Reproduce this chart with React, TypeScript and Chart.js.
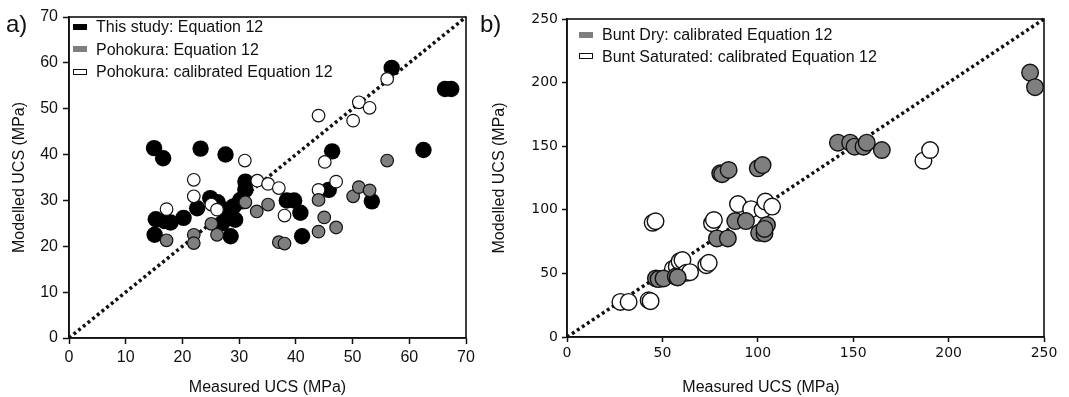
import React, { useEffect, useRef } from 'react';
import { Chart, registerables } from 'chart.js';
Chart.register(...registerables);

// ---------- Panel a) ----------
const thisStudyX = [15.0, 16.6, 23.2, 27.6, 15.1, 15.3, 16.8, 17.9, 20.2, 22.6, 24.9, 26.2, 27.5, 28.5, 29.0, 28.5, 29.3, 27.0, 30.5, 31.1, 31.1, 38.4, 39.7, 40.8, 41.1, 45.8, 46.4, 53.4, 62.5, 56.9, 66.3, 67.4, 30.2];
const thisStudyY = [41.4, 39.2, 41.3, 40.0, 22.5, 25.9, 25.5, 25.2, 26.2, 28.3, 30.5, 29.6, 28.0, 26.5, 28.7, 22.2, 25.8, 25.0, 29.8, 32.3, 34.1, 30.0, 30.0, 27.3, 22.2, 32.3, 40.7, 29.8, 41.0, 58.9, 54.3, 54.3, 30.1];

const pohokuraX = [17.2, 22.0, 22.0, 25.1, 26.1, 31.1, 33.1, 35.1, 37.0, 38.0, 44.0, 44.0, 45.0, 47.1, 50.1, 51.1, 53.0, 56.1];
const pohokuraY = [21.3, 22.5, 20.7, 24.9, 22.5, 29.6, 27.6, 29.1, 20.9, 20.6, 30.1, 23.2, 26.3, 24.1, 30.9, 32.9, 32.2, 38.7];

const pohokuraCalX = [17.2, 22.0, 22.0, 25.1, 26.1, 31.0, 33.2, 35.1, 37.0, 38.0, 44.0, 45.1, 47.1, 44.0, 50.1, 51.1, 53.0, 56.1];
const pohokuraCalY = [28.1, 34.5, 30.9, 29.1, 28.0, 38.7, 34.3, 33.6, 32.7, 26.7, 32.3, 38.4, 34.1, 48.5, 47.4, 51.4, 50.2, 56.5];

const axisA = [0, 70];

// ---------- Panel b) ----------
const buntDryX = [46.6, 48.0, 50.6, 57.0, 58.0, 78.6, 84.3, 80.3, 81.3, 84.7, 88.2, 93.8, 100.0, 102.5, 100.7, 103.5, 104.8, 103.5, 142.0, 148.4, 150.7, 155.4, 157.1, 165.0, 242.7, 245.3];
const buntDryY = [46.0, 45.5, 46.0, 47.5, 46.8, 77.5, 77.5, 128.7, 128.0, 131.3, 91.1, 91.1, 132.6, 135.2, 81.9, 81.4, 88.0, 85.0, 152.8, 152.8, 149.6, 149.6, 152.8, 147.0, 207.9, 196.4];

const buntSatX = [28.0, 32.3, 42.8, 43.8, 44.9, 46.4, 55.5, 57.5, 59.0, 60.5, 62.5, 64.5, 73.0, 74.3, 76.0, 77.0, 89.6, 96.5, 102.5, 104.0, 107.5, 186.8, 190.3];
const buntSatY = [27.6, 27.6, 28.9, 28.2, 89.8, 91.0, 53.5, 55.5, 59.5, 60.5, 50.5, 51.0, 56.5, 58.3, 89.5, 92.0, 104.5, 100.5, 100.0, 106.5, 102.5, 138.6, 147.0];

const axisB = [0, 250];

const labelsA = ['This study: Equation 12', 'Pohokura: Equation 12', 'Pohokura: calibrated Equation 12'];
const labelsB = ['Bunt Dry: calibrated Equation 12', 'Bunt Saturated: calibrated Equation 12'];

const INK = '#111111';
const GRAY = '#7f7f7f';
const ARIAL = "'Liberation Sans', Arial, sans-serif";
const DEJAVU = "'DejaVu Sans', sans-serif";

const zip = (xs: number[], ys: number[]) => xs.map((x, i) => ({ x, y: ys[i] }));

const framePlugin = {
  id: 'frame',
  beforeDatasetsDraw(chart: any) {
    const { ctx, chartArea } = chart;
    const { left, top, right, bottom } = chartArea;
    ctx.save();
    ctx.strokeStyle = INK;
    ctx.lineWidth = 1.6;
    ctx.strokeRect(left, top, right - left, bottom - top);
    ctx.restore();
  },
};

function makeScale(opts: {
  min: number; max: number; step: number; font: any; tickLen: number; tickPad: number;
  title?: string; titlePad?: any; titleFont?: any; size: number; horizontal: boolean;
}) {
  return {
    type: 'linear',
    min: opts.min,
    max: opts.max,
    ticks: { stepSize: opts.step, font: opts.font, color: INK, padding: opts.tickPad },
    grid: { display: true, drawOnChartArea: false, drawTicks: true, tickLength: opts.tickLen, color: INK, tickWidth: 1.5 },
    border: { display: true, color: INK, width: 1.6 },
    title: opts.title
      ? { display: true, text: opts.title, font: opts.titleFont, color: INK, padding: opts.titlePad }
      : { display: false },
    afterFit: (s: any) => {
      if (opts.horizontal) s.height = opts.size;
      else s.width = opts.size;
    },
  };
}

function useChart(ref: React.RefObject<HTMLCanvasElement>, build: () => any) {
  useEffect(() => {
    if (!ref.current) return;
    const chart = new Chart(ref.current, build());
    return () => chart.destroy();
  }, []);
}

function lineDataset(ax: number[]) {
  return {
    type: 'line',
    data: zip(ax, ax),
    borderColor: INK,
    borderWidth: 3.5,
    borderDash: [3, 3],
    pointRadius: 0,
    fill: false,
    order: 10,
    clip: false,
  };
}

function PanelA() {
  const ref = useRef<HTMLCanvasElement>(null);
  useChart(ref, () => {
    const tickFont = { family: ARIAL, size: 16 };
    const titleFont = { family: ARIAL, size: 16 };
    return {
      type: 'scatter',
      data: {
        datasets: [
          lineDataset(axisA),
          { label: labelsA[0], data: zip(thisStudyX, thisStudyY), backgroundColor: '#000', borderColor: '#000', borderWidth: 0, pointRadius: 8.2, order: 3, clip: false },
          { label: labelsA[2], data: zip(pohokuraCalX, pohokuraCalY), backgroundColor: '#fff', borderColor: INK, borderWidth: 1.2, pointRadius: 6.3, order: 2, clip: false },
          { label: labelsA[1], data: zip(pohokuraX, pohokuraY), backgroundColor: GRAY, borderColor: INK, borderWidth: 1.2, pointRadius: 6.3, order: 1, clip: false },
        ],
      },
      options: {
        responsive: false,
        animation: false,
        layout: { padding: { top: 17, right: 69, bottom: 0, left: 0 } },
        plugins: { legend: { display: false }, tooltip: { enabled: false } },
        scales: {
          x: makeScale({ min: 0, max: 70, step: 10, font: tickFont, tickLen: 6, tickPad: 4, title: 'Measured UCS (MPa)', titleFont, titlePad: { top: 0, bottom: 0 }, size: 59, horizontal: true }),
          y: makeScale({ min: 0, max: 70, step: 10, font: tickFont, tickLen: 6, tickPad: 5, title: 'Modelled UCS (MPa)', titleFont, titlePad: { top: 10.4, bottom: 0 }, size: 69, horizontal: false }),
        },
      },
      plugins: [framePlugin],
    };
  });
  return <canvas ref={ref} width={535} height={397} style={{ position: 'absolute', left: 0, top: 0 }} />;
}

function PanelB() {
  const ref = useRef<HTMLCanvasElement>(null);
  useChart(ref, () => {
    const tickFont = { family: DEJAVU, size: 14 };
    const titleFont = { family: ARIAL, size: 16 };
    return {
      type: 'scatter',
      data: {
        datasets: [
          lineDataset(axisB),
          { label: labelsB[1], data: zip(buntSatX, buntSatY), backgroundColor: '#fff', borderColor: INK, borderWidth: 1.4, pointRadius: 8.3, order: 2, clip: false },
          { label: labelsB[0], data: zip(buntDryX, buntDryY), backgroundColor: GRAY, borderColor: INK, borderWidth: 1.4, pointRadius: 8.3, order: 1, clip: false },
        ],
      },
      options: {
        responsive: false,
        animation: false,
        layout: { padding: { top: 19, right: 25, bottom: 0, left: 0 } },
        plugins: { legend: { display: false }, tooltip: { enabled: false } },
        scales: {
          x: makeScale({ min: 0, max: 250, step: 50, font: tickFont, tickLen: 5, tickPad: 3, size: 60, horizontal: true }),
          y: makeScale({ min: 0, max: 250, step: 50, font: tickFont, tickLen: 5, tickPad: 4, title: 'Modelled UCS (MPa)', titleFont, titlePad: { top: 20.4, bottom: 0 }, size: 97, horizontal: false }),
        },
      },
      plugins: [framePlugin],
    };
  });
  return <canvas ref={ref} width={599} height={397} style={{ position: 'absolute', left: 470, top: 0 }} />;
}

const text16: React.CSSProperties = { position: 'absolute', fontFamily: ARIAL, fontSize: 16, lineHeight: '20px', color: INK, whiteSpace: 'nowrap' };
const panelLabel: React.CSSProperties = { position: 'absolute', top: 10, fontFamily: ARIAL, fontSize: 24, lineHeight: '28px', color: INK };

function LegendRow({ x, cy, label, fill, stroke }: { x: number; cy: number; label: string; fill: string; stroke?: boolean }) {
  return (
    <>
      <div style={{ position: 'absolute', left: x, top: cy - 3, width: stroke ? 12 : 14, height: stroke ? 4 : 6, background: fill, border: stroke ? `1.2px solid ${INK}` : 'none' }} />
      <div style={{ ...text16, left: x + 23, top: cy - 9.8 }}>{label}</div>
    </>
  );
}

export default function App() {
  return (
    <div style={{ position: 'absolute', left: 0, top: 0, width: 1069, height: 397, background: '#fff', overflow: 'hidden' }}>
      <PanelA />
      <PanelB />
      <div style={{ ...panelLabel, left: 6 }}>a)</div>
      <div style={{ ...panelLabel, left: 480 }}>b)</div>
      <LegendRow x={73} cy={26.7} label={labelsA[0]} fill="#000" />
      <LegendRow x={73} cy={49.4} label={labelsA[1]} fill={GRAY} />
      <LegendRow x={73} cy={71.5} label={labelsA[2]} fill="#fff" stroke />
      <LegendRow x={579} cy={34.7} label={labelsB[0]} fill={GRAY} />
      <LegendRow x={579} cy={56.3} label={labelsB[1]} fill="#fff" stroke />
      <div style={{ ...text16, left: 661, width: 200, textAlign: 'center', top: 377 }}>Measured UCS (MPa)</div>
    </div>
  );
}
